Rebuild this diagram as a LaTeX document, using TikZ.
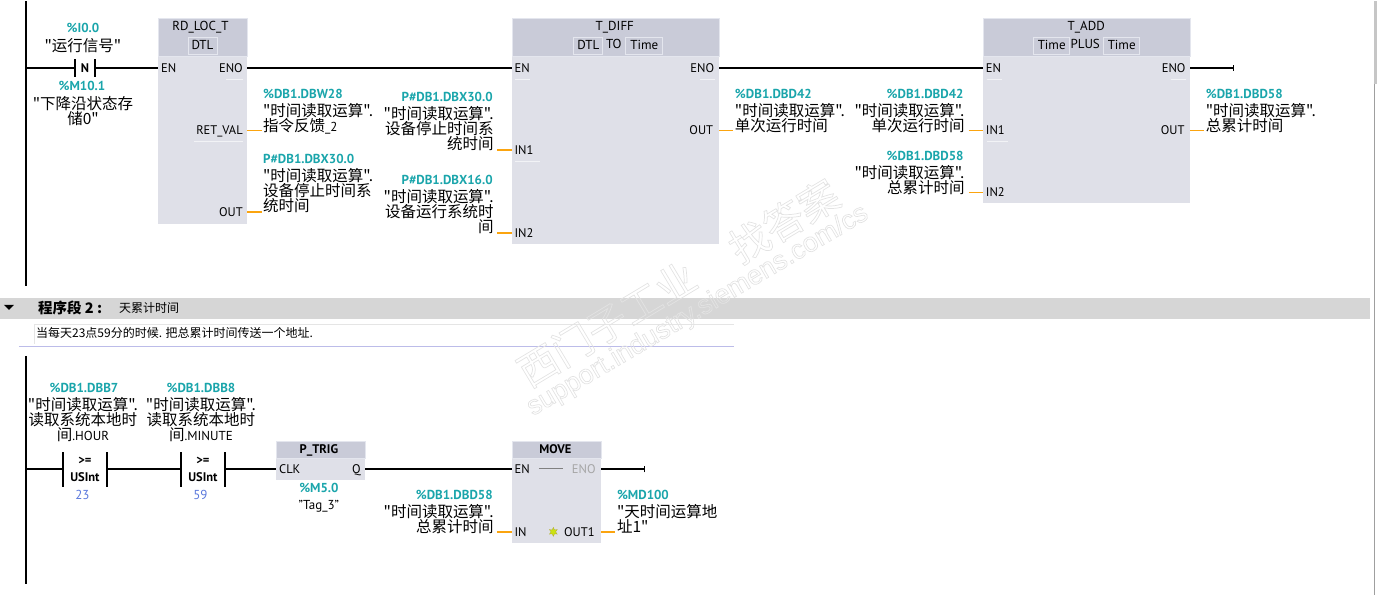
\documentclass[tikz,border=0pt]{standalone}
\usepackage{fontspec}
\usepackage{xcolor}
\setmainfont{PT Sans}
\newfontfamily\cjk{Noto Sans CJK SC}
\definecolor{blockFill}{HTML}{DFE0E8}
\definecolor{headFill}{HTML}{C9CBD8}
\definecolor{tagTeal}{HTML}{1AA5AB}
\definecolor{stubOrange}{HTML}{FBA40F}
\definecolor{constBlue}{HTML}{5A78DC}
\definecolor{barGray}{HTML}{D6D6D6}
\definecolor{subLine}{HTML}{E4E6EE}
\usetikzlibrary{positioning,shapes.geometric}
\newcommand{\latinpart}[1]{{\normalfont\fontsize{13}{15}\selectfont #1}}
\newcommand{\outlined}[1]{\special{pdf:code q 1 Tr 0.7 w 0.89 0.89 0.89 RG}#1\special{pdf:code Q}}

\begin{document}
\begin{tikzpicture}[x=1pt,y=-1pt]
            \tikzset{
                wire/.style={line width=2pt},
                stub/.style={stubOrange,line width=1pt},
                stubthick/.style={stubOrange,line width=2pt},
                blockbox/.style={
                    anchor=north west,
                    fill=blockFill,
                    inner sep=0pt
                },
                blockhead/.style={
                    anchor=north west,
                    fill=headFill,
                    draw=subLine,
                    line width=0.6pt,
                    inner sep=0pt
                },
                title/.style={font=\fontsize{13}{13}\selectfont,inner sep=0pt,text height=9pt,text depth=0pt},
                typebox/.style={draw=subLine,line width=0.7pt,minimum height=17pt,inner sep=0pt,font=\fontsize{13}{13}\selectfont,text height=9pt,text depth=0pt},
                pinname/.style={font=\fontsize{12.5}{12.5}\selectfont,inner sep=0pt,text height=8.8pt,text depth=0pt},
                tagtext/.style={font=\bfseries\fontsize{13}{13}\selectfont,text=tagTeal,inner sep=0pt,text height=9pt,text depth=0pt},
                vartext/.style={
                    font={\cjk\fontsize{15.5}{15}\selectfont\lineskiplimit=-20pt},
                    inner sep=0pt,
                    execute at begin node=\rule{0pt}{14pt}
                },
                vartextL/.style={vartext,anchor=north west,align=left},
                vartextR/.style={vartext,anchor=north east,align=right},
                vartextC/.style={vartext,anchor=north,align=center},
                contact/.style={inner sep=0pt,align=center},
                watermark/.style={inner sep=0pt,font={\cjk\fontsize{40}{40}\selectfont}}
            }

            % Network 1 rail
            \coordinate (Rail1_T) at (26,0);
            \coordinate (Rail1_B) at (26,285);
            \draw[wire] (Rail1_T) -- (Rail1_B);

            % Falling edge contact
            \node[contact,minimum width=20pt,minimum height=17pt,font=\bfseries\fontsize{12.5}{12.5}\selectfont] (N_Contact) at (85,67) {N};
            \draw[wire] (N_Contact.north west) -- (N_Contact.south west);
            \draw[wire] (N_Contact.north east) -- (N_Contact.south east);
            \node[tagtext] (N_Tag) at (83,27.5) {\%I0.0};
            \node[vartextC] (N_Var) at (83,36) {"运行信号"};
            \node[tagtext] (N_Bit) at (82,85.5) {\%M10.1};
            \node[vartextC] (N_BitVar) at (83,95) {"下降沿状态存\\储0"};

            % RD_LOC_T block
            \node[blockbox,minimum width=89pt,minimum height=206pt] (Loc_Box) at (158,17) {};
            \node[blockhead,minimum width=89pt,minimum height=38pt] (Loc_Head) at (158,17) {};
            \node[title] (Loc_Title) at (200.5,25.5) {RD\_LOC\_T};
            \node[typebox,minimum width=29pt] (Loc_Type) at (202.5,44.5) {DTL};
            \node[pinname,anchor=west] (Loc_EN) at (161,67) {EN};
            \node[pinname,anchor=east] (Loc_ENO) at (243,67) {ENO};
            \node[pinname,anchor=east] (Loc_RET) at (243,129.5) {RET\_VAL};
            \node[pinname,anchor=east] (Loc_OUT) at (243,211.5) {OUT};

            \node[tagtext,anchor=west] (Loc_RET_Tag) at (263,93.5) {\%DB1.DBW28};
            \node[vartextL] (Loc_RET_Var) at (263,102) {"时间读取运算".\\指令反馈\latinpart{\_2}};
            \node[tagtext,anchor=west] (Loc_OUT_Tag) at (263,158.5) {P\#DB1.DBX30.0};
            \node[vartextL] (Loc_OUT_Var) at (263,167) {"时间读取运算".\\设备停止时间系\\统时间};
            \coordinate (Loc_RET_End) at (262,129.5);
            \coordinate (Loc_OUT_End) at (262,211.5);

            % T_DIFF block
            \node[blockbox,minimum width=207pt,minimum height=226pt] (Diff_Box) at (512,17) {};
            \node[blockhead,minimum width=207pt,minimum height=38pt] (Diff_Head) at (512,17) {};
            \node[title] (Diff_Title) at (615,25.5) {T\_DIFF};
            \node[typebox,minimum width=29pt] (Diff_TypeA) at (588.5,44.5) {DTL};
            \node[title] (Diff_To) at (614,43) {TO};
            \node[typebox,minimum width=37pt] (Diff_TypeB) at (644.5,44.5) {Time};
            \node[pinname,anchor=west] (Diff_EN) at (514.5,67) {EN};
            \node[pinname,anchor=east] (Diff_ENO) at (714.5,67) {ENO};
            \node[pinname,anchor=west] (Diff_IN1) at (514.5,149.5) {IN1};
            \node[pinname,anchor=west] (Diff_IN2) at (514.5,232.5) {IN2};
            \node[pinname,anchor=east] (Diff_OUT) at (713.5,129.5) {OUT};

            \node[tagtext,anchor=east] (Diff_IN1_Tag) at (493,96.5) {P\#DB1.DBX30.0};
            \node[vartextR] (Diff_IN1_Var) at (494,105) {"时间读取运算".\\设备停止时间系\\统时间};
            \node[tagtext,anchor=east] (Diff_IN2_Tag) at (493,179.5) {P\#DB1.DBX16.0};
            \node[vartextR] (Diff_IN2_Var) at (494,188) {"时间读取运算".\\设备运行系统时\\间};
            \node[tagtext,anchor=west] (Diff_OUT_Tag) at (735,93.5) {\%DB1.DBD42};
            \node[vartextL] (Diff_OUT_Var) at (735,102) {"时间读取运算".\\单次运行时间};
            \coordinate (Diff_IN1_End) at (497,149.5);
            \coordinate (Diff_IN2_End) at (497,232.5);
            \coordinate (Diff_OUT_End) at (733,129.5);

            % T_ADD block
            \node[blockbox,minimum width=207pt,minimum height=185pt] (Add_Box) at (983,17) {};
            \node[blockhead,minimum width=207pt,minimum height=38pt] (Add_Head) at (983,17) {};
            \node[title] (Add_Title) at (1086.5,25.5) {T\_ADD};
            \node[typebox,minimum width=36pt] (Add_TypeA) at (1052,44.5) {Time};
            \node[title] (Add_Plus) at (1085.5,43) {PLUS};
            \node[typebox,minimum width=36pt] (Add_TypeB) at (1122,44.5) {Time};
            \node[pinname,anchor=west] (Add_EN) at (986,67) {EN};
            \node[pinname,anchor=east] (Add_ENO) at (1186,67) {ENO};
            \node[pinname,anchor=west] (Add_IN1) at (986,129.5) {IN1};
            \node[pinname,anchor=west] (Add_IN2) at (986,191.5) {IN2};
            \node[pinname,anchor=east] (Add_OUT) at (1185,129.5) {OUT};

            \node[tagtext,anchor=east] (Add_IN1_Tag) at (964,93.5) {\%DB1.DBD42};
            \node[vartextR] (Add_IN1_Var) at (965,102) {"时间读取运算".\\单次运行时间};
            \node[tagtext,anchor=east] (Add_IN2_Tag) at (964,155.5) {\%DB1.DBD58};
            \node[vartextR] (Add_IN2_Var) at (965,164) {"时间读取运算".\\总累计时间};
            \node[tagtext,anchor=west] (Add_OUT_Tag) at (1206,93.5) {\%DB1.DBD58};
            \node[vartextL] (Add_OUT_Var) at (1206,102) {"时间读取运算".\\总累计时间};
            \coordinate (Add_IN1_End) at (969,129.5);
            \coordinate (Add_IN2_End) at (969,191.5);
            \coordinate (Add_OUT_End) at (1204,129.5);
            \coordinate (Add_ENO_End) at (1233.5,67);

            %% Network 1 wires
            \draw[wire] (Rail1_T |- N_Contact) -- (N_Contact.west);
            \draw[wire] (N_Contact.east) -- (Loc_Box.west |- N_Contact);
            \draw[wire] (Loc_Box.east |- Loc_ENO) -- (Diff_Box.west |- Diff_EN);
            \draw[wire] (Diff_Box.east |- Diff_ENO) -- (Add_Box.west |- Add_EN);
            \draw[wire] (Add_Box.east |- Add_ENO) -- (Add_ENO_End);
            \draw[line width=1pt] ([yshift=-3pt]Add_ENO_End) -- ([yshift=3pt]Add_ENO_End);
            \draw[stub] (Loc_Box.east |- Loc_RET) -- (Loc_RET_End);
            \draw[stubthick] (Loc_Box.east |- Loc_OUT) -- (Loc_OUT_End);
            \draw[stubthick] (Diff_IN1_End) -- (Diff_Box.west |- Diff_IN1);
            \draw[stubthick] (Diff_IN2_End) -- (Diff_Box.west |- Diff_IN2);
            \draw[stub] (Diff_Box.east |- Diff_OUT) -- (Diff_OUT_End);
            \draw[stub] (Add_IN1_End) -- (Add_Box.west |- Add_IN1);
            \draw[stub] (Add_IN2_End) -- (Add_Box.west |- Add_IN2);
            \draw[stub] (Add_Box.east |- Add_OUT) -- (Add_OUT_End);

            %% Pin underlines
            \foreach \xa/\xb/\yy in {226/243/78.5,194/243/140,515/530/78.5,700/715/78.5,515/540/160,987/1002/78.5,1171/1186/78.5,987/1008/140,515/597/479.5}
                \draw[white!60!blockFill,line width=0.7pt] (\xa,\yy) -- (\xb,\yy);

            % Network 2 header
            \node[fill=barGray,anchor=north west,inner sep=0pt,minimum width=1370pt,minimum height=21pt] (Net2_Bar) at (0,297) {};
            \fill[black] (4,304) -- (14,304) -- (9,309) -- cycle;
            \node[anchor=west,inner sep=0pt,font={\cjk\bfseries\fontsize{14.5}{14.5}\selectfont}] (Net2_Label) at (38,307) {程序段 2 :};
            \node[anchor=west,inner sep=0pt,font={\cjk\fontsize{12}{12}\selectfont}] (Net2_Name) at (119,307.5) {天累计时间};
            \node[anchor=west,inner sep=0pt,font={\cjk\fontsize{12}{12}\selectfont}] (Net2_Note) at (36,332) {当每天23点59分的时候. 把总累计时间传送一个地址.};
            \draw[gray!20,line width=0.7pt] (734,323) -- (34,323) -- (34,343);
            \draw[blue!50!gray!35,line width=0.8pt] (19,345.5) -- (734,345.5);

            % Network 2 rail
            \coordinate (Rail2_T) at (26,355);
            \coordinate (Rail2_B) at (26,583);
            \draw[wire] (Rail2_T) -- (Rail2_B);

            % Comparators
            \node[contact,minimum width=44pt,minimum height=34pt,font=\bfseries\fontsize{12.5}{17.5}\selectfont] (Cmp_Hour) at (85,468.5) {>=\\USInt};
            \draw[wire] (Cmp_Hour.north west) -- (Cmp_Hour.south west);
            \draw[wire] (Cmp_Hour.north east) -- (Cmp_Hour.south east);
            \node[tagtext] (Cmp_Hour_Tag) at (84,387.5) {\%DB1.DBB7};
            \node[vartextC] (Cmp_Hour_Var) at (83,396) {"时间读取运算".\\读取系统本地时\\间\latinpart{.HOUR}};
            \node[font=\fontsize{13}{13}\selectfont,text=constBlue,inner sep=0pt] (Cmp_Hour_Val) at (82.5,494) {23};

            \node[contact,minimum width=44pt,minimum height=34pt,font=\bfseries\fontsize{12.5}{17.5}\selectfont] (Cmp_Min) at (203,468.5) {>=\\USInt};
            \draw[wire] (Cmp_Min.north west) -- (Cmp_Min.south west);
            \draw[wire] (Cmp_Min.north east) -- (Cmp_Min.south east);
            \node[tagtext] (Cmp_Min_Tag) at (201,387.5) {\%DB1.DBB8};
            \node[vartextC] (Cmp_Min_Var) at (201,396) {"时间读取运算".\\读取系统本地时\\间\latinpart{.MINUTE}};
            \node[font=\fontsize{13}{13}\selectfont,text=constBlue,inner sep=0pt] (Cmp_Min_Val) at (200.5,494) {59};

            % P_TRIG block
            \node[blockbox,minimum width=89pt,minimum height=39pt] (Trig_Box) at (276,440) {};
            \node[blockhead,minimum width=89pt,minimum height=17pt] (Trig_Head) at (276,440) {};
            \node[title,font=\bfseries\fontsize{12.5}{12.5}\selectfont] (Trig_Title) at (319,448.5) {P\_TRIG};
            \node[pinname,anchor=west] (Trig_CLK) at (279,468.5) {CLK};
            \node[pinname,anchor=east] (Trig_Q) at (361,468.5) {Q};
            \node[tagtext] (Trig_Tag) at (319,487.5) {\%M5.0};
            \node[font=\fontsize{13}{15}\selectfont,inner sep=0pt] (Trig_Var) at (319,505) {"Tag\_3"};

            % MOVE block
            \node[blockbox,minimum width=89pt,minimum height=102pt] (Move_Box) at (512,440) {};
            \node[blockhead,minimum width=89pt,minimum height=17pt] (Move_Head) at (512,440) {};
            \node[title,font=\bfseries\fontsize{12.5}{12.5}\selectfont] (Move_Title) at (555.5,448.5) {MOVE};
            \node[pinname,anchor=west] (Move_EN) at (514.5,468.5) {EN};
            \node[pinname,anchor=east,text=gray!70] (Move_ENO) at (596,468.5) {ENO};
            \node[pinname,anchor=west] (Move_IN) at (514.5,531) {IN};
            \node[pinname,anchor=east] (Move_OUT) at (595,531) {OUT1};
            \node[fill=yellow!80!green,draw=olive!70,line width=0.3pt,star,star points=6,star point ratio=2,minimum size=9pt,inner sep=0pt] (Move_Star) at (553.5,531) {};
            \draw[gray,line width=0.8pt] (Move_EN.east) ++(9pt,1pt) -- ++(24pt,0);

            \node[tagtext,anchor=east] (Move_IN_Tag) at (493,494.5) {\%DB1.DBD58};
            \node[vartextR] (Move_IN_Var) at (494,503.5) {"时间读取运算".\\总累计时间};
            \node[tagtext,anchor=west] (Move_OUT_Tag) at (617,494.5) {\%MD100};
            \node[vartextL] (Move_OUT_Var) at (617,503.5) {"天时间运算地\\址1"};
            \coordinate (Move_IN_End) at (497,531);
            \coordinate (Move_OUT_End) at (615,531);
            \coordinate (Move_ENO_End) at (644.5,468.5);

            %% Network 2 wires
            \draw[wire] (Rail2_T |- Cmp_Hour) -- (Cmp_Hour.west);
            \draw[wire] (Cmp_Hour.east) -- (Cmp_Min.west);
            \draw[wire] (Cmp_Min.east) -- (Trig_Box.west |- Trig_CLK);
            \draw[wire] (Trig_Box.east |- Trig_Q) -- (Move_Box.west |- Move_EN);
            \draw[wire] (Move_Box.east |- Move_ENO) -- (Move_ENO_End);
            \draw[line width=1pt] ([yshift=-3pt]Move_ENO_End) -- ([yshift=3pt]Move_ENO_End);
            \draw[stubthick] (Move_IN_End) -- (Move_Box.west |- Move_IN);
            \draw[stubthick] (Move_Box.east |- Move_OUT) -- (Move_OUT_End);

            % Watermark
            \node[watermark,rotate=31] (Water_A) at (607,323) {\outlined{西门子工业}};
            \node[watermark,rotate=31] (Water_B) at (784,220) {\outlined{找答案}};
            \node[watermark,rotate=30.5,font=\fontfamily{lmss}\fontspec{Liberation Sans}\fontsize{27}{27}\selectfont] (Water_C) at (698,310) {\outlined{support.industry.siemens.com/cs}};

            % Scroll edge
            \fill[gray!45] (1374,0) rectangle (1377,82);
            \draw[gray!75,line width=1pt] (1374.5,82) -- (1374.5,594);
            \draw[gray!45,line width=0.8pt] (1374,82) -- (1377,82);

            \useasboundingbox (0,0) rectangle (1377,594);
\end{tikzpicture}
\end{document}
